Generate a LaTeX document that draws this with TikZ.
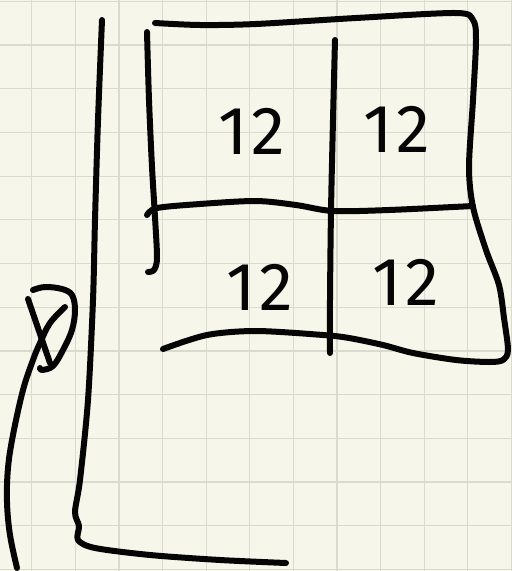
\documentclass[tikz,border=0pt]{standalone}
\usepackage{fontspec}
\usepackage{xcolor}
\usepackage{tikz}
\usetikzlibrary{calc}
\setsansfont{Fira Sans}
\definecolor{paper}{HTML}{F7F6EA}
\definecolor{gridgrey}{HTML}{DADBCF}
\definecolor{ink}{HTML}{050505}

\begin{document}
\begin{tikzpicture}[x=1pt, y=-1pt,
    pen/.style={draw=ink, line width=6pt, line cap=round, line join=round},
    cell/.style={font=\sffamily\fontsize{68}{68}\selectfont, text=ink, inner sep=0pt}]
  % paper and squares
  \fill[paper] (0,0) rectangle (512,571);
  \useasboundingbox (0,0) rectangle (512,571);
  \foreach \i in {0,...,11}
    \draw[gridgrey, line width=1.2pt] ({31.7+43.6*\i},0) -- ({31.7+43.6*\i},571);
  \foreach \j in {0,...,13}
    \draw[gridgrey, line width=1.2pt] (0,{1.3+43.7*\j}) -- (512,{1.3+43.7*\j});

  % long bracket on the left
  \draw[pen] plot[smooth, tension=0.5] coordinates {(102,20) (98,120) (95,220) (93,300)
    (88,400) (80,480) (75,512) (79,526) (78,540) (95,548) (150,555) (220,560) (286,563)};

  % left edge of the grid
  \draw[pen] plot[smooth, tension=0.5] coordinates {(147,32) (149,100) (152,167)
    (155,217) (157,258) (154,270) (148,272)};

  % top, right side and bottom of the grid
  \draw[pen] plot[smooth, tension=0.5] coordinates {(155,23) (200,25) (256,24) (356,18)
    (456,13) (473,20) (476,40) (473,100) (469,167) (473,207) (486,250) (499,285)
    (504,318) (508,350) (503,360) (489,362) (456,360) (413,353) (383,345) (349,338)
    (323,335) (256,331) (207,335) (163,349)};

  % middle lines
  \draw[pen] plot[smooth, tension=0.5] coordinates {(147,215) (157,208) (200,204)
    (256,201) (296,205) (333,211) (389,210) (473,206)};
  \draw[pen] plot[smooth, tension=0.5] coordinates {(335,40) (333,120) (331,211)
    (330,300) (330,353)};

  % entries
  \node[cell] (c11) at (252,131) {1\kern3pt 2};
  \node[cell] (c12) at (397,129) {1\kern3pt 2};
  \node[cell] (c21) at (260,287) {1\kern3pt 2};
  \node[cell] (c22) at (406,282) {1\kern3pt 2};

  % mark on the far left
  \draw[pen] plot[smooth, tension=0.6] coordinates {(33,290) (45,287) (62,289) (72,295)
    (75,310) (72,330) (63,350) (53,366) (42,370) (40,368)};
  \draw[pen] (28,299) -- (50,363);
  \draw[pen] plot[smooth, tension=0.6] coordinates {(65,307) (50,323) (40,343) (33,360)
    (23,390) (13,435) (8,468) (7,502) (10,535) (17,568)};
\end{tikzpicture}
\end{document}
